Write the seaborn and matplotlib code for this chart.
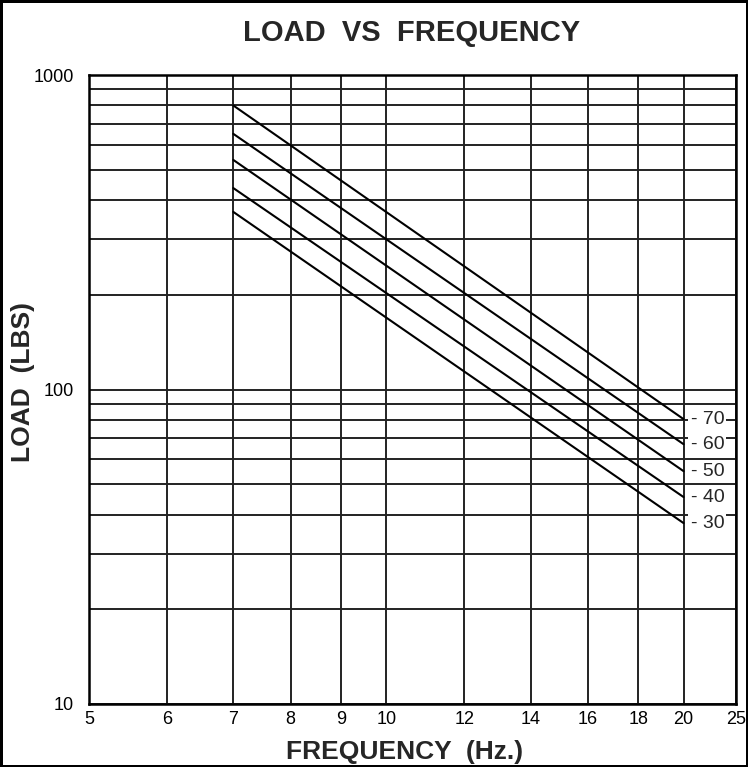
import numpy as np
import pandas as pd
import matplotlib
matplotlib.use("Agg")
import matplotlib.pyplot as plt
import seaborn as sns
from matplotlib.ticker import FixedLocator, NullLocator, FixedFormatter, NullFormatter

# ---- data ----
curve_labels = ["70", "60", "50", "40", "30"]
freq_points = [7, 20]
load_70 = [800, 80.5]
load_60 = [650, 67]
load_50 = [537, 55]
load_40 = [437, 45.5]
load_30 = [367, 37.6]
x_ticks = [5, 6, 7, 8, 9, 10, 12, 14, 16, 18, 20, 25]
x_tick_labels = ["5", "6", "7", "8", "9", "10", "12", "14", "16", "18", "20", "25"]
y_ticks = [10, 100, 1000]
y_tick_labels = ["10", "100", "1000"]
y_minor = [20, 30, 40, 50, 60, 70, 80, 90, 200, 300, 400, 500, 600, 700, 800, 900]

loads = [load_70, load_60, load_50, load_40, load_30]
rows = []
for lab, vals in zip(curve_labels, loads):
    for f, v in zip(freq_points, vals):
        rows.append({"curve": lab, "freq": f, "load": v})
df = pd.DataFrame(rows)

sns.set_style("white")
plt.rcParams["font.family"] = ["Liberation Sans", "DejaVu Sans"]

fig = plt.figure(figsize=(7.48, 7.67), dpi=100)
fig.patch.set_facecolor("white")
fig.patch.set_edgecolor("black")
fig.patch.set_linewidth(2.5)
ax = fig.add_axes([89 / 748, 1 - 704 / 767, 647 / 748, 629 / 767])

sns.lineplot(data=df, x="freq", y="load", hue="curve", palette=["black"] * 5,
             legend=False, ax=ax, linewidth=1.5, estimator=None, sort=False)

# x axis: logarithmic up to 20, then compressed to the "25" edge as in the reference
L20 = np.log10(20.0)
K = (np.log10(22.6) - L20) / 5.0


def fwd(x):
    x = np.asarray(x, dtype=float)
    return np.where(x <= 20, np.log10(np.clip(x, 1e-9, None)), L20 + (x - 20) * K)


def inv(y):
    y = np.asarray(y, dtype=float)
    return np.where(y <= L20, 10 ** y, 20 + (y - L20) / K)


ax.set_xscale("function", functions=(fwd, inv))
ax.set_yscale("log")
ax.set_xlim(5, 25)
ax.set_ylim(10, 1000)

ax.xaxis.set_major_locator(FixedLocator(x_ticks))
ax.xaxis.set_major_formatter(FixedFormatter(x_tick_labels))
ax.xaxis.set_minor_locator(NullLocator())
ax.yaxis.set_major_locator(FixedLocator(y_ticks))
ax.yaxis.set_major_formatter(FixedFormatter(y_tick_labels))
ax.yaxis.set_minor_locator(FixedLocator(y_minor))
ax.yaxis.set_minor_formatter(NullFormatter())

ax.tick_params(which="both", length=0, labelsize=13, colors="black")
ax.tick_params(axis="x", pad=5)
ax.tick_params(axis="y", pad=11)

ax.grid(which="major", axis="both", color="#222222", linewidth=1.4)
ax.grid(which="minor", axis="y", color="#222222", linewidth=1.4)
ax.set_axisbelow(True)
for s in ax.spines.values():
    s.set_visible(True)
    s.set_color("black")
    s.set_linewidth(1.8)

for lab, vals in zip(curve_labels, loads):
    ax.annotate("- " + lab, xy=(freq_points[-1], vals[-1]), xytext=(7, 0),
                textcoords="offset pixels", ha="left", va="center", fontsize=14,
                bbox=dict(facecolor="white", edgecolor="none", pad=1.5), zorder=5)

ax.set_xlabel("FREQUENCY  (Hz.)", fontsize=19, fontweight="bold")
ax.set_ylabel("LOAD  (LBS)", fontsize=19, fontweight="bold")
ax.xaxis.label.set_va("center")
ax.yaxis.label.set_va("center")
ax.xaxis.set_label_coords(0.488, -0.076)
ax.yaxis.set_label_coords(-0.102, 0.512)

fig.text(412 / 748, 1 - 33 / 767, "LOAD  VS  FREQUENCY", ha="center", va="center",
         fontsize=21, fontweight="bold")

fig.savefig("out.png", dpi=100, facecolor="white", edgecolor="black")
